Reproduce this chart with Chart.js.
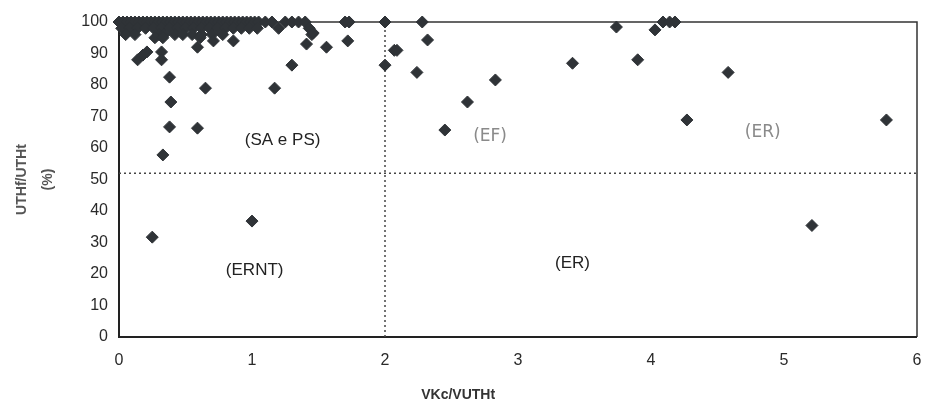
<!DOCTYPE html>
<html>
<head>
<meta charset="utf-8">
<style>
  html, body { margin: 0; padding: 0; background: #fff; }
  #wrap { width: 925px; height: 408px; }
</style>
</head>
<body>
<div id="wrap"><canvas id="mychart" width="925" height="408"></canvas></div>
<script src="https://cdn.jsdelivr.net/npm/chart.js@4/dist/chart.umd.min.js"></script>
<script>
// VKc/VUTHt (x) against UTHf/UTHt in % (y)
var xValues = [
    // band along 100
    0.00, 0.03, 0.06, 0.09, 0.12, 0.15, 0.18, 0.21, 0.24, 0.27, 0.30, 0.33, 0.36, 0.39, 0.42,
    0.45, 0.48, 0.51, 0.54, 0.57, 0.60, 0.63, 0.66, 0.69, 0.72, 0.75, 0.78, 0.81, 0.84, 0.87,
    0.90, 0.93, 0.96, 0.99, 1.02, 1.05, 1.10, 1.15, 1.25, 1.30, 1.35, 1.40, 1.70, 1.73, 2.00, 2.28,
    // second row
    0.02, 0.08, 0.14, 0.20, 0.26, 0.32, 0.38, 0.44, 0.50, 0.56, 0.62, 0.68, 0.74, 0.80, 0.86,
    0.92, 0.98, 1.04, 1.20, 1.43,
    // third row
    0.05, 0.12, 0.30, 0.34, 0.42, 0.48, 0.55, 0.62, 0.70, 0.78, 1.45,
    // just under the band
    0.27, 0.33, 0.61, 0.71, 0.86, 0.59, 1.41, 1.46, 1.56, 1.72, 2.07,
    // scattered
    0.14, 0.18, 0.21, 0.32, 0.32, 0.38, 0.39, 0.38, 0.33, 0.65, 0.59, 1.30, 1.17,
    2.00, 2.09, 2.24, 2.32, 2.83, 2.62, 2.45, 3.41, 3.74, 3.90, 4.03, 4.09, 4.14, 4.18,
    4.58, 4.27, 5.77, 5.21, 0.25, 1.00
];
var yValues = [
    100, 100, 100, 100, 100, 100, 100, 100, 100, 100, 100, 100, 100, 100, 100,
    100, 100, 100, 100, 100, 100, 100, 100, 100, 100, 100, 100, 100, 100, 100,
    100, 100, 100, 100, 100, 100, 100, 100, 100, 100, 100, 100, 100, 100, 100, 100,
    98, 98, 98, 98, 98, 98, 98, 98, 98, 98, 98, 98, 98, 98, 98,
    98, 98, 98, 98, 98,
    96, 96, 96, 96, 96, 96, 96, 96, 96, 96, 96,
    95, 95, 95, 94, 94, 92, 93, 96.5, 92, 94, 91,
    88, 89.5, 90.5, 90.5, 88, 82.5, 74.6, 66.7, 57.8, 79, 66.3, 86.3, 79,
    86.3, 91, 84, 94.3, 81.6, 74.6, 65.7, 86.9, 98.4, 88, 97.5, 100, 100, 100,
    84, 68.9, 68.9, 35.4, 31.7, 36.8
];

var xTicks = [0, 1, 2, 3, 4, 5, 6];
var yTicks = [0, 10, 20, 30, 40, 50, 60, 70, 80, 90, 100];

// dotted dividers
var splitX = 2;
var splitY = 52;

// zone labels
var zoneText = ['(SA e PS)', '(EF)', '(ER)', '(ERNT)', '(ER)'];
var zoneX = [1.23, 2.79, 4.84, 1.02, 3.41];
var zoneY = [62.5, 63.5, 64.8, 21.3, 23.5];

var points = xValues.map(function(x, i) { return {x: x, y: yValues[i]}; });

var frame = {
    id: 'frame',
    beforeDatasetsDraw: function(chart) {
        var a = chart.chartArea, ctx = chart.ctx;
        ctx.save();
        ctx.strokeStyle = '#333';
        ctx.lineWidth = 1.5;
        ctx.beginPath();
        ctx.moveTo(a.left, a.top);
        ctx.lineTo(a.right, a.top);
        ctx.lineTo(a.right, a.bottom);
        ctx.stroke();
        ctx.lineWidth = 2;
        ctx.strokeStyle = '#222';
        ctx.beginPath();
        ctx.moveTo(a.left, a.top);
        ctx.lineTo(a.left, a.bottom);
        ctx.lineTo(a.right, a.bottom);
        ctx.stroke();
        ctx.restore();
    },
    afterDatasetsDraw: function(chart) {
        var ctx = chart.ctx, xs = chart.scales.x, ys = chart.scales.y;
        ctx.save();
        ctx.textAlign = 'center';
        ctx.textBaseline = 'middle';
        zoneText.forEach(function(t, i) {
            // the (EF) and upper (ER) are pencilled in
            if (i == 1 || i == 2) {
                ctx.font = '17px "DejaVu Sans", sans-serif';
                ctx.fillStyle = '#8a8a8a';
            } else {
                ctx.font = '17px "Liberation Sans", Arial, sans-serif';
                ctx.fillStyle = '#222';
            }
            ctx.fillText(t, xs.getPixelForValue(zoneX[i]), ys.getPixelForValue(zoneY[i]));
        });
        // x title sits left of centre in the original
        ctx.font = 'bold 14px "Liberation Sans", Arial, sans-serif';
        ctx.fillStyle = '#333';
        ctx.fillText('VKc/VUTHt', xs.getPixelForValue(2.55), chart.chartArea.bottom + 58);
        ctx.restore();
    }
};

var tickFont = {family: '"Liberation Sans", Arial, sans-serif', size: 16};

var myChart = new Chart(document.getElementById('mychart'), {
    type: 'scatter',
    data: {
        datasets: [{
            label: 'pontos',
            data: points,
            pointStyle: 'rectRot',
            pointRadius: 6,
            backgroundColor: '#2f3337',
            borderColor: '#2f3337',
            borderWidth: 1,
            clip: false,
            order: 1
        }, {
            label: 'y split',
            data: [{x: 0, y: splitY}, {x: 6, y: splitY}],
            showLine: true,
            pointRadius: 0,
            borderColor: '#444',
            borderWidth: 1.5,
            borderDash: [2, 3],
            order: 2
        }, {
            label: 'x split',
            data: [{x: splitX, y: 0}, {x: splitX, y: 100}],
            showLine: true,
            pointRadius: 0,
            borderColor: '#444',
            borderWidth: 1.5,
            borderDash: [2, 3],
            order: 2
        }]
    },
    options: {
        responsive: false,
        animation: false,
        layout: {padding: {top: 22, right: 8, left: 0, bottom: 0}},
        plugins: {legend: {display: false}, tooltip: {enabled: false}},
        scales: {
            x: {
                type: 'linear',
                min: 0,
                max: 6,
                afterBuildTicks: function(s) { s.ticks = xTicks.map(function(v) { return {value: v}; }); },
                afterFit: function(s) { s.height = 71; s.paddingLeft = 0; s.paddingRight = 0; },
                grid: {display: false, drawTicks: false},
                border: {display: false},
                ticks: {font: tickFont, color: '#2a2a2a', padding: 14}
            },
            y: {
                type: 'linear',
                min: 0,
                max: 100,
                afterBuildTicks: function(s) { s.ticks = yTicks.map(function(v) { return {value: v}; }); },
                afterFit: function(s) { s.width = 119; s.paddingTop = 0; s.paddingBottom = 0; },
                grid: {display: false, drawTicks: false},
                border: {display: false},
                ticks: {font: tickFont, color: '#2a2a2a', padding: 11},
                title: {
                    display: true,
                    text: ['UTHf/UTHt', '(%)'],
                    color: '#555',
                    font: {family: '"Liberation Sans", Arial, sans-serif', size: 14, weight: 'bold', lineHeight: 1.85},
                    padding: {top: 9, bottom: 0}
                }
            }
        }
    },
    plugins: [frame]
});
</script>
</body>
</html>
